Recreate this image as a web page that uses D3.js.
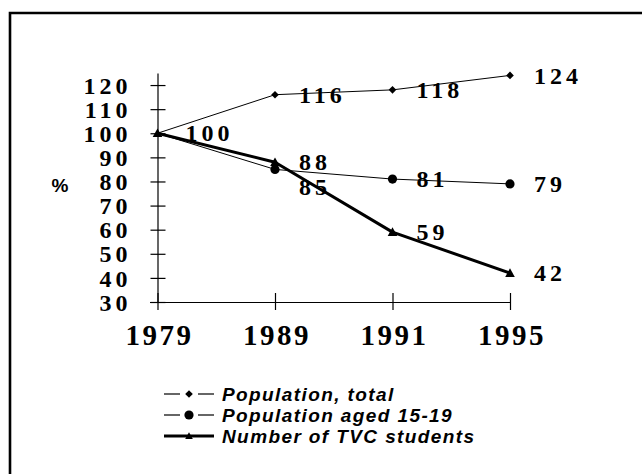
<!DOCTYPE html>
<html>
<head>
<meta charset="utf-8">
<script src="https://cdn.jsdelivr.net/npm/d3@7"></script>
<style>
  body { margin: 0; background: #fff; }
  svg { display: block; }
</style>
</head>
<body>
<svg id="chart" width="642" height="474"></svg>
<script>
const categories = ["1979", "1989", "1991", "1995"];
const popTotal = [100, 116, 118, 124];
const popAged = [100, 85, 81, 79];
const tvcStudents = [100, 88, 59, 42];
const yTicks = [30, 40, 50, 60, 70, 80, 90, 100, 110, 120];

const seriesList = [
  { name: "Population, total", values: popTotal, marker: "diamond", width: 1 },
  { name: "Population aged 15-19", values: popAged, marker: "circle", width: 1 },
  { name: "Number of TVC students", values: tvcStudents, marker: "triangle", width: 3 }
];

// label nudges (pixels) where the original moved a label off its point
const labelNudge = { "1-1": 17 };

const svg = d3.select("#chart");
const serif = "'Liberation Serif', 'Times New Roman', serif";
const sans = "'Liberation Sans', Arial, sans-serif";

// frame (only top and left edges show in the scan)
svg.append("path")
  .attr("d", "M10,474 L10,13 L642,13")
  .attr("fill", "none")
  .attr("stroke", "#000")
  .attr("stroke-width", 2.6);

const x = d3.scalePoint().domain(categories).range([157.5, 510]);
const y = d3.scaleLinear().domain([30, 125]).range([302, 73]);

// y axis
const yAxis = svg.append("g")
  .attr("transform", "translate(157.5,0)")
  .call(d3.axisLeft(y).tickValues(yTicks).tickSize(7).tickSizeOuter(0).tickPadding(19));
yAxis.select(".domain").attr("stroke-width", 1.2);
yAxis.selectAll(".tick line").attr("x1", 8).attr("x2", -7).attr("stroke-width", 1.2);
yAxis.selectAll(".tick text")
  .attr("dy", "0.34em")
  .style("font-family", serif)
  .style("font-weight", "bold")
  .style("font-size", "24px")
  .style("letter-spacing", "4px")
  .attr("fill", "#000");

// x axis
const xAxis = svg.append("g")
  .attr("transform", "translate(0,302)")
  .call(d3.axisBottom(x).tickSize(8).tickSizeOuter(0).tickPadding(35));
xAxis.select(".domain").attr("d", "M150,0.5H510").attr("stroke-width", 1.2);
xAxis.selectAll(".tick line").attr("y1", -9).attr("y2", 8).attr("stroke-width", 1.2);
xAxis.selectAll(".tick text")
  .attr("dy", "0")
  .attr("dx", "1.5")
  .style("font-family", serif)
  .style("font-weight", "bold")
  .style("font-size", "29px")
  .style("letter-spacing", "2.5px")
  .attr("fill", "#000");

// % label
svg.append("text")
  .text("%")
  .attr("x", 60)
  .attr("y", 185)
  .attr("dy", "0.35em")
  .attr("text-anchor", "middle")
  .style("font-family", sans)
  .style("font-weight", "bold")
  .style("font-size", "19px");

function drawMarker(g, type, cx, cy, scale) {
  const s = scale || 1;
  if (type === "diamond") {
    const r = 3.8 * s;
    g.append("path")
      .attr("d", `M${cx},${cy - r}L${cx + r},${cy}L${cx},${cy + r}L${cx - r},${cy}Z`)
      .attr("fill", "#000");
  } else if (type === "circle") {
    g.append("circle").attr("cx", cx).attr("cy", cy).attr("r", 4.6 * s).attr("fill", "#000");
  } else {
    const r = 4.8 * s;
    g.append("path")
      .attr("d", `M${cx},${cy - r}L${cx + r},${cy + r * 0.8}L${cx - r},${cy + r * 0.8}Z`)
      .attr("fill", "#000");
  }
}

const line = d3.line()
  .x((d, i) => x(categories[i]))
  .y(d => y(d));

const plot = svg.append("g");
seriesList.forEach((s, si) => {
  plot.append("path")
    .datum(s.values)
    .attr("d", line)
    .attr("fill", "none")
    .attr("stroke", "#000")
    .attr("stroke-width", s.width)
    .attr("stroke-linejoin", "round");
  s.values.forEach((v, i) => {
    // a later series sitting on the same point hides this marker
    const hidden = seriesList.slice(si + 1).some(p => p.values[i] === v);
    if (!hidden) drawMarker(plot, s.marker, x(categories[i]), y(v));
  });
});

// data labels (shared identical values drawn once)
const labels = svg.append("g");
seriesList.forEach((s, si) => {
  s.values.forEach((v, i) => {
    const dup = seriesList.slice(0, si).some(p => p.values[i] === v);
    if (dup) return;
    const nudge = labelNudge[si + "-" + i] || 0;
    labels.append("text")
      .text(v)
      .attr("x", x(categories[i]) + (i === 0 ? 28 : 24))
      .attr("y", y(v) + nudge)
      .attr("dy", "0.34em")
      .style("font-family", serif)
      .style("font-weight", "bold")
      .style("font-size", "24px")
      .style("letter-spacing", "4px");
  });
});

// legend
const legendRows = [394, 415, 436];
const legend = svg.append("g");
seriesList.forEach((s, i) => {
  const ly = legendRows[i];
  if (s.width > 1) {
    legend.append("line").attr("x1", 164).attr("x2", 214).attr("y1", ly).attr("y2", ly)
      .attr("stroke", "#000").attr("stroke-width", 3);
  } else {
    legend.append("line").attr("x1", 164).attr("x2", 180).attr("y1", ly).attr("y2", ly)
      .attr("stroke", "#000").attr("stroke-width", 1.2);
    legend.append("line").attr("x1", 198).attr("x2", 214).attr("y1", ly).attr("y2", ly)
      .attr("stroke", "#000").attr("stroke-width", 1.2);
  }
  drawMarker(legend, s.marker, 189, ly, s.marker === "triangle" ? 0.8 : 1);
  legend.append("text")
    .text(s.name)
    .attr("x", 222)
    .attr("y", ly)
    .attr("dy", "0.36em")
    .style("font-family", sans)
    .style("font-weight", "bold")
    .style("font-style", "italic")
    .style("font-size", "19px")
    .style("letter-spacing", "1.4px");
});
</script>
</body>
</html>
